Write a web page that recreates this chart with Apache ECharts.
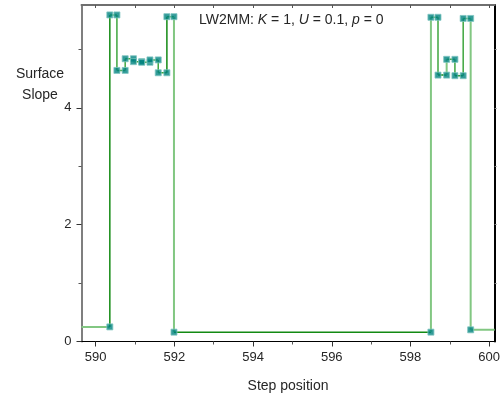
<!DOCTYPE html>
<html>
<head>
<meta charset="utf-8">
<script src="https://cdn.jsdelivr.net/npm/echarts@6/dist/echarts.min.js"></script>
<style>html,body{margin:0;padding:0;background:#fff;}#c{width:503px;height:402px;}</style>
</head>
<body>
<div id="c"></div>
<script>
// ---- data ----
const xRange = [589.64, 600.14];
const stepX = [590.36, 590.54, 590.75, 590.96, 591.17, 591.38, 591.59, 591.81, 591.99,
               598.52, 598.70, 598.92, 599.13, 599.34, 599.53];
const levels = [0.25, 5.59, 4.64, 4.84, 4.79, 4.78, 4.82, 4.60, 5.56, 0.16,
                5.55, 4.56, 4.83, 4.55, 5.53, 0.20];
const xTickLabels = [590, 592, 594, 596, 598, 600];
const xMinorTicks = [591, 593, 595, 597, 599];
const xTopTicks = [590, 591, 592, 593, 594, 595, 596, 597, 598, 599, 600];
const yTickLabels = [0, 2, 4];
const yMinorTicks = [1, 3, 5];
const yRightTicks = [1, 2, 3, 4, 5];

// ---- styles (per segment: H0,V0,H1,V1,...) ----
const D = '#138a13', M = '#3fa63f', L = '#82c782';
const segColors = [L, D, M, M, M, M, M, M, M, M, M, M, M, M, M, D, M, L, D, L,
                   M, M, D, L, M, M, D, M, M, L, L];

// build the polyline points
const pts = [[xRange[0], levels[0]]];
const markers = [];
for (let i = 0; i < stepX.length; i++) {
  pts.push([stepX[i], levels[i]]);
  pts.push([stepX[i], levels[i + 1]]);
  markers.push([stepX[i], levels[i]]);
  markers.push([stepX[i], levels[i + 1]]);
}
pts.push([xRange[1], levels[levels.length - 1]]);

const series = [];
for (let k = 0; k < pts.length - 1; k++) {
  const c = segColors[k] || M;
  series.push({
    type: 'line', xAxisIndex: 0, yAxisIndex: 0,
    data: [pts[k], pts[k + 1]], symbol: 'none', silent: true, animation: false,
    lineStyle: { color: c, width: c === L ? 2 : 1.5 }, z: 2
  });
}
series.push({
  type: 'scatter', xAxisIndex: 0, yAxisIndex: 0, data: markers,
  symbol: 'rect', symbolSize: 6, animation: false, z: 5,
  itemStyle: { color: '#00827f', borderColor: '#7fc6c1', borderWidth: 1 }
});

const font = 'Liberation Sans';
const txt = '#262626';
const chart = echarts.init(document.getElementById('c'), null, { renderer: 'canvas' });
chart.setOption({
  animation: false,
  backgroundColor: '#fff',
  grid: { left: 81.5, right: 4.5, top: 5, bottom: 60.5, containLabel: false },
  xAxis: [
    { type: 'value', min: xRange[0], max: xRange[1], position: 'bottom',
      axisLine: { show: true, onZero: false, lineStyle: { color: '#000', width: 1 } },
      axisTick: { show: true, customValues: xTickLabels, length: 5, lineStyle: { color: '#333' } },
      axisLabel: { customValues: xTickLabels, color: txt, fontFamily: font, fontSize: 13, margin: 9 },
      splitLine: { show: false },
      name: 'Step position', nameLocation: 'middle', nameGap: 38,
      nameTextStyle: { color: txt, fontFamily: font, fontSize: 14 } },
    { type: 'value', min: xRange[0], max: xRange[1], position: 'bottom',
      axisLine: { show: false, onZero: false },
      axisTick: { show: true, customValues: xMinorTicks, length: 3, lineStyle: { color: '#555' } },
      axisLabel: { show: false }, splitLine: { show: false } },
    { type: 'value', min: xRange[0], max: xRange[1], position: 'top',
      axisLine: { show: true, onZero: false, lineStyle: { color: '#6f6f6f', width: 2 } },
      axisTick: { show: true, inside: true, customValues: xTopTicks, length: 3, lineStyle: { color: '#555' } },
      axisLabel: { show: false }, splitLine: { show: false } }
  ],
  yAxis: [
    { type: 'value', min: 0, max: 5.76, position: 'left',
      axisLine: { show: true, onZero: false, lineStyle: { color: '#7f7f7f', width: 2 } },
      axisTick: { show: true, customValues: yTickLabels, length: 5, lineStyle: { color: '#333' } },
      axisLabel: { customValues: yTickLabels, color: txt, fontFamily: font, fontSize: 13, margin: 10 },
      splitLine: { show: false } },
    { type: 'value', min: 0, max: 5.76, position: 'left',
      axisLine: { show: false, onZero: false },
      axisTick: { show: true, customValues: yMinorTicks, length: 3, lineStyle: { color: '#555' } },
      axisLabel: { show: false }, splitLine: { show: false } },
    { type: 'value', min: 0, max: 5.76, position: 'right',
      axisLine: { show: true, onZero: false, lineStyle: { color: '#000', width: 2 } },
      axisTick: { show: true, customValues: yRightTicks, length: 2, lineStyle: { color: '#888' } },
      axisLabel: { show: false }, splitLine: { show: false } }
  ],
  graphic: [
    { type: 'text', x: 40, y: 64, silent: true,
      style: { text: 'Surface\nSlope', lineHeight: 21,
               fill: txt, font: '14px "Liberation Sans"', align: 'center', textAlign: 'center' } },
    { type: 'text', left: 199, top: 13, silent: true,
      style: { text: '{n|LW2MM: }{i|K}{n| = 1, }{i|U}{n| = 0.1, }{i|p}{n| = 0}',
               rich: { n: { fontFamily: font, fontSize: 14, fill: txt, color: txt },
                       i: { fontFamily: font, fontSize: 14, fontStyle: 'italic', fill: txt, color: txt } } } }
  ],
  series: series
});
</script>
</body>
</html>
